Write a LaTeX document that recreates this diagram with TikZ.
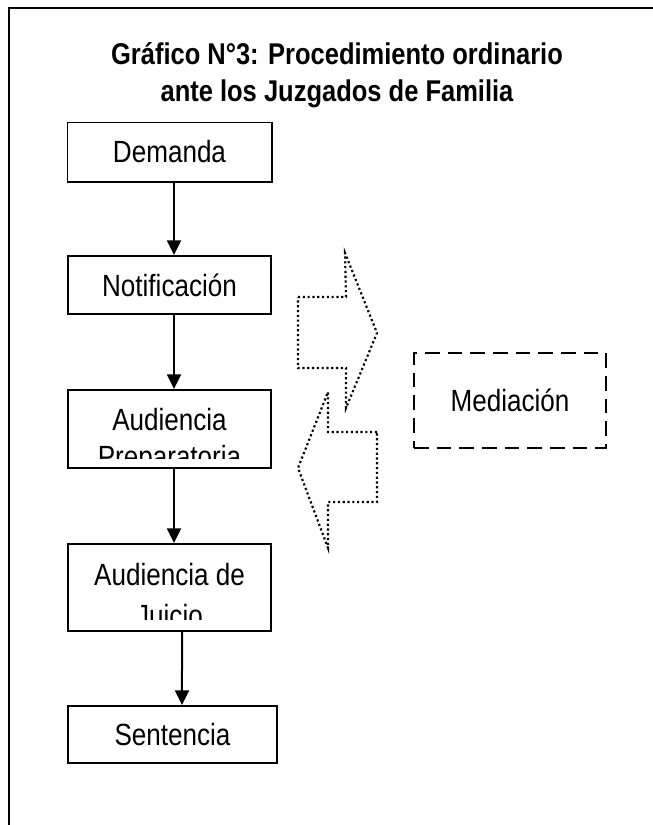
\documentclass[tikz,border=0pt]{standalone}
\usepackage{fontspec}
\setmainfont{Liberation Sans}[FakeStretch=0.85]
\usepackage{tikz}
\usetikzlibrary{arrows.meta}

\tikzset{
  paso/.style={draw=black, line width=1.5pt, inner sep=0pt, minimum width=152.25pt,
    font=\fontsize{23pt}{29pt}\selectfont},
  texto/.style={inner sep=0pt, align=center, font=\fontsize{23pt}{29pt}\selectfont},
  flecha/.style={line width=1.5pt, -{Triangle[width=10.5pt,length=11pt]}},
  punteado/.style={dotted, line width=1.6pt},
}

\begin{document}
\begin{tikzpicture}[x=0.75pt,y=-0.75pt]
    \useasboundingbox (0,0) rectangle (653,825);

    % marco
    \draw [line width=1.8pt] (9,825) -- (9,8) -- (653,8);
    % titulo
    \node [texto, anchor=north, font=\fontsize{22.5pt}{27.75pt}\selectfont\bfseries] (titulo) at (337,42)
        {Gráfico N°3: Procedimiento ordinario\\ante los Juzgados de Familia};

    % pasos
    \node [paso, draw=none, minimum height=43.5pt] (demanda) at (169.5,152) {Demanda};
    \draw [line width=0.6pt] (demanda.south west) -- (demanda.north west) -- (demanda.north east);
    \draw [line width=1.5pt] (demanda.north east) -- (demanda.south east) -- (demanda.south west);
    \node [paso, minimum height=43.5pt] (notif) at (169.5,285) {Notificación};
    \node [paso, minimum height=58.5pt] (prep) at (169.5,429) {};
    \node [paso, minimum height=65.25pt] (juicio) at (169.5,587.5) {};
    \node [paso, minimum width=156.75pt, minimum height=42.75pt] (sentencia) at (172.5,734.5) {Sentencia};

    % textos cortados
    \begin{scope}
        \clip (prep.north west) rectangle ([yshift=8.25pt]prep.south east);
        \node [texto, anchor=north, font=\fontsize{23pt}{28pt}\selectfont] (preptxt) at (169.5,408)
            {Audiencia\\Preparatoria};
    \end{scope}
    \begin{scope}
        \clip (juicio.north west) rectangle ([yshift=9.75pt]juicio.south east);
        \node [texto, anchor=north, font=\fontsize{23pt}{31pt}\selectfont] (juiciotxt) at (169.5,563)
            {Audiencia de\\Juicio};
    \end{scope}

    % |
    \draw [flecha] ([xshift=3.4pt]demanda.south) -- ([xshift=3.4pt]notif.north);
    \draw [flecha] ([xshift=3.4pt]notif.south) -- ([xshift=3.4pt]prep.north);
    \draw [flecha] ([xshift=3.4pt]prep.south) -- ([xshift=3.4pt]juicio.north);
    \draw [flecha] ([xshift=9.4pt]juicio.south) -- ([xshift=7.1pt]sentencia.north);

    % mediacion
    \node [paso, dash pattern=on 11pt off 6pt, minimum width=144pt,
        minimum height=71.25pt] (mediacion) at (510,400.5) {Mediación};

    % flechas punteadas
    \draw [punteado] (298,297) -- (346,297) -- (345,253) -- (377,333) -- (346,408)
        -- (346,368) -- (298,368) -- cycle;
    \draw [punteado] (377,432) -- (328,432) -- (328,392) -- (298,468) -- (328,548)
        -- (328,502) -- (377,502) -- cycle;
\end{tikzpicture}
\end{document}
